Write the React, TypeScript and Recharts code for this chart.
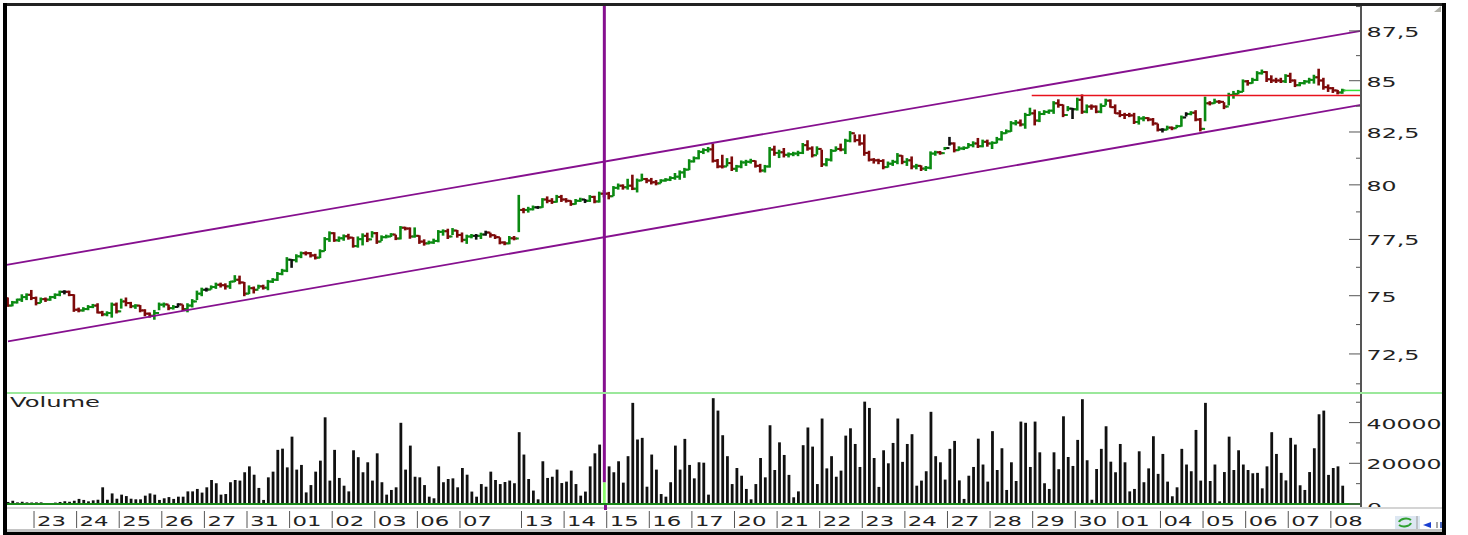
import React from "react";
import { ComposedChart, Bar, Cell, XAxis, YAxis, ReferenceLine } from "recharts";

const highs = [
  74.9,74.75,74.85,75.04,75.08,75.23,74.94,74.9,74.9,74.97,
  75.08,75.2,75.22,75.2,75.04,74.46,74.48,74.57,74.62,74.65,
  74.32,74.3,74.68,74.68,74.85,74.9,74.71,74.61,74.57,74.39,
  74.25,74.36,74.68,74.68,74.59,74.57,74.65,74.59,74.65,74.83,
  75.2,75.33,75.33,75.43,75.55,75.55,75.52,75.62,75.88,75.86,
  75.58,75.43,75.38,75.46,75.46,75.67,75.75,76.02,76.16,76.68,
  76.59,76.81,76.93,76.94,76.91,76.83,77.03,77.58,77.84,77.8,
  77.61,77.7,77.73,77.58,77.61,77.75,77.78,77.85,77.81,77.66,
  77.69,77.76,77.69,78.08,78.05,78.02,78.02,77.66,77.48,77.42,
  77.51,77.9,77.93,77.96,77.99,77.9,77.79,77.69,77.72,77.72,
  77.78,77.87,77.78,77.69,77.57,77.39,77.63,77.63,79.51,78.91,
  78.96,79.02,79,79.36,79.44,79.36,79.51,79.51,79.36,79.26,
  79.32,79.38,79.32,79.5,79.47,79.66,79.74,79.65,79.92,80.04,
  80,80.26,80.45,80.27,80.5,80.3,80.3,80.2,80.24,80.29,
  80.38,80.53,80.65,80.77,81.18,81.31,81.61,81.7,81.76,81.93,
  81.19,81.39,81.23,81.31,80.91,81.12,81.15,81.2,81.12,80.96,
  80.91,81.76,81.82,81.63,81.71,81.5,81.53,81.58,81.95,82.08,
  81.79,81.79,81.63,81.23,81.66,81.79,81.92,82.15,82.52,82.36,
  82.36,82.36,81.58,81.23,81.2,81.18,81.07,81.15,81.47,81.37,
  81.23,81.31,80.96,80.89,80.86,81.55,81.58,81.57,81.76,82.24,
  81.98,81.79,81.79,81.95,82.03,82.19,82.11,82.11,82.03,82.24,
  82.52,82.6,83,83.05,83.08,83.4,83.65,83.56,83.48,83.53,
  83.56,83.97,84.06,83.81,83.73,83.64,84.14,84.3,83.81,83.81,
  83.76,83.86,84.09,84.06,83.81,83.53,83.4,83.4,83.4,83.24,
  83.24,83.19,83.15,82.88,82.66,82.78,82.74,82.82,83.27,83.43,
  83.48,83.53,83.15,84.19,83.97,84.09,84.02,83.92,84.38,84.47,
  84.52,85.04,85.01,85.12,85.45,85.53,85.45,85.24,85.12,85.12,
  85.3,85.37,85.04,84.91,85.01,85.12,85.27,85.57,85.12,84.79,
  84.66,84.52,84.58,
];

const lows = [
  74.54,74.56,74.68,74.75,74.83,74.83,74.6,74.71,74.75,74.8,
  74.88,75,75.08,75,74.32,74.3,74.33,74.39,74.48,74.25,
  74.13,74.13,74.07,74.25,74.46,74.56,74.48,74.45,74.3,74.13,
  74.07,73.98,74.39,74.51,74.39,74.42,74.51,74.36,74.3,74.51,
  74.83,75,75.2,75.29,75.32,75.38,75.29,75.32,75.62,75.52,
  75,75.09,75.12,75.32,75.29,75.26,75.58,75.67,75.92,76.06,
  76.25,76.49,76.68,76.8,76.71,76.62,76.68,77,77.41,77.41,
  77.41,77.46,77.51,77.15,77.15,77.25,77.4,77.6,77.32,77.45,
  77.57,77.63,77.49,77.52,77.93,77.55,77.6,77.32,77.24,77.3,
  77.32,77.39,77.69,77.54,77.72,77.6,77.39,77.32,77.57,77.51,
  77.54,77.69,77.6,77.54,77.3,77.26,77.3,77.48,77.85,78.71,
  78.74,78.84,78.91,78.96,79.17,79.14,79.2,79.23,79.2,79.05,
  79.11,79.23,79.18,79.23,79.17,79.2,79.44,79.35,79.5,79.8,
  79.8,79.8,79.78,79.67,80.2,80.1,80.04,80,80.1,80.17,
  80.2,80.26,80.26,80.35,80.71,81.07,81.22,81.47,81.55,81.07,
  80.8,80.79,80.89,80.67,80.63,80.8,80.91,81.02,80.83,80.6,
  80.6,80.83,81.39,81.28,81.31,81.31,81.37,81.37,81.47,81.63,
  81.31,81.44,80.86,80.89,81.12,81.6,81.6,81.47,82.03,82.03,
  81.87,81.39,81.12,81.02,80.99,80.75,80.83,80.91,80.99,80.99,
  80.91,80.75,80.75,80.67,80.67,80.75,81.39,81.44,81.66,81.87,
  81.55,81.63,81.66,81.76,81.79,81.76,81.79,81.82,81.71,81.98,
  82.11,82.44,82.53,82.84,82.79,82.68,83.32,82.84,83,83.34,
  83.4,83.4,83.7,83.24,83.53,83.15,83.56,83.4,83.43,83.6,
  83.43,83.43,83.81,83.7,83.4,83.24,83.15,83.24,82.91,82.88,
  83.04,83.04,82.83,82.55,82.5,82.61,82.61,82.71,82.78,83.27,
  83.33,83.04,82.55,83.04,83.81,83.89,83.89,83.63,83.81,84.14,
  84.35,84.47,84.78,84.88,85.01,85.33,84.96,84.91,84.91,84.91,
  84.91,84.91,84.71,84.75,84.84,84.88,84.88,84.79,84.58,84.47,
  84.42,84.35,84.38,
];

const closes = [
  74.57,74.71,74.83,74.94,75.04,74.9,74.68,74.85,74.83,74.94,
  75.04,75.17,75.17,75.03,74.39,74.36,74.42,74.51,74.57,74.27,
  74.19,74.25,74.61,74.32,74.75,74.68,74.54,74.57,74.36,74.22,
  74.13,74.25,74.61,74.62,74.46,74.51,74.62,74.42,74.57,74.75,
  75.09,75.26,75.27,75.38,75.48,75.46,75.41,75.62,75.7,75.58,
  75.09,75.33,75.26,75.41,75.35,75.62,75.7,75.96,76.1,76.59,
  76.57,76.74,76.88,76.88,76.78,76.68,76.97,77.51,77.78,77.46,
  77.55,77.64,77.58,77.2,77.51,77.66,77.5,77.78,77.4,77.6,
  77.63,77.72,77.54,78.03,77.99,77.63,77.66,77.4,77.32,77.36,
  77.43,77.84,77.87,77.63,77.9,77.7,77.48,77.63,77.66,77.66,
  77.72,77.81,77.69,77.6,77.36,77.32,77.55,77.54,78.84,78.84,
  78.87,78.96,78.96,79.32,79.26,79.21,79.44,79.32,79.26,79.11,
  79.26,79.32,79.26,79.44,79.23,79.59,79.59,79.47,79.86,79.96,
  79.89,79.96,79.82,80.2,80.27,80.2,80.12,80.07,80.2,80.24,
  80.32,80.38,80.58,80.71,81.1,81.25,81.55,81.64,81.67,81.13,
  80.86,80.86,81.02,80.75,80.86,81.05,81.08,81.12,80.89,80.67,
  80.86,81.66,81.5,81.53,81.41,81.44,81.47,81.5,81.87,81.71,
  81.39,81.69,80.96,81.18,81.6,81.69,81.66,82.08,82.44,82.11,
  81.95,81.5,81.18,81.15,81.12,80.83,80.99,81.08,81.37,81.08,
  81.15,80.86,80.89,80.76,80.8,81.47,81.53,81.49,81.73,81.95,
  81.63,81.71,81.74,81.87,81.95,81.82,82.03,81.95,81.98,82.15,
  82.44,82.53,82.92,82.95,82.86,83.32,83.4,83.05,83.37,83.47,
  83.53,83.89,83.81,83.32,83.63,83.6,84.06,83.48,83.73,83.73,
  83.48,83.76,84.02,83.7,83.4,83.32,83.32,83.3,82.98,83.15,
  83.17,83.1,82.91,82.61,82.61,82.71,82.68,82.78,83.2,83.37,
  83.43,83.1,82.65,83.89,83.89,83.97,83.96,83.73,84.3,84.35,
  84.45,84.97,84.88,85.04,85.37,85.43,85.07,85.01,85.01,84.97,
  85.24,85.01,84.78,84.88,84.96,85.04,85.17,85.01,84.68,84.63,
  84.52,84.42,84.52,
];

const neutralBars = [12, 36, 42, 60, 99, 101, 112, 122, 199, 225, 244, 249];

const volumes = [
  1000,1600,800,1100,800,700,800,800,300,500,
  700,1000,1300,1100,1600,2500,2000,1300,1800,2100,
  8200,2100,5200,2600,4600,3900,2600,2300,2300,4100,
  5200,4600,2000,2800,3400,2500,3600,3600,6200,6200,
  7400,5600,8200,11800,10200,4600,4900,10700,11800,11500,
  15600,18500,14400,7900,2000,13100,15900,26600,27200,18000,
  33100,16900,19200,5700,9300,15900,21300,42600,11500,26600,
  12800,9000,6200,26400,23000,15600,20500,
  11500,24900,10700,4600,6900,8200,39900,16900,28700,13400,
  13100,9300,3600,2800,18500,10700,12300,12600,8200,17700,
  14400,6100,3600,9800,8500,15900,11800,9800,10800,11500,
  10200,35300,24300,12300,6600,2300,21000,12800,13400,16900,
  10300,11000,16400,9800,4100,6100,18500,24900,29200,10700,
  18500,15600,21000,10500,23500,49700,31700,32500,8500,24300,
  16900,4900,3600,10700,28700,16900,32000,19200,12600,20500,
  20300,4600,52000,45900,33800,23500,9800,17700,
  13900,7400,2300,9800,22600,13100,38700,16700,30300,24100,
  14300,3300,6200,28900,37600,28200,9800,42000,17500,23500,
  13400,16400,33600,37200,29500,18200,50300,47200,22600,8400,
  26400,20000,30000,42000,20700,29500,34300,9000,11500,16100,
  45300,23500,20500,12000,27100,31000,11600,2500,13900,18200,
  32100,19400,11000,35800,16700,27400,6900,20500,11300,40500,
  39900,18200,40500,25400,10200,7400,25400,17100,43100,23100,
  18700,31500,51500,21500,2100,17200,27100,38200,
  20800,15600,29500,20500,6200,7400,25900,10700,17500,33300,
  14800,24600,11000,3800,8200,27100,19400,16100,36400,11500,
  49700,11300,19400,1300,15700,33100,16700,26400,19400,16700,
  15100,15300,7700,18500,35300,24600,15300,11600,32500,29200,
  9200,6900,15700,27400,44100,45900,14300,17700,18500,9000,
];

const highlightedVolumeBar = 126;

const dayTickPositions = [
  5.5,14.5,23.5,32.5,41.5,50.5,59.5,68.5,77.5,86.5,95.5,
  108.5,117.5,126.5,135.5,144.5,153.5,162.5,171.5,180.5,189.5,
  198.5,207.5,216.5,225.5,234.5,243.5,252.5,261.5,270.5,279.5,
];
const dayTickLabels = [
  "23","24","25","26","27","31","01","02","03","06","07",
  "13","14","15","16","17","20","21","22","23","24",
  "27","28","29","30","01","04","05","06","07","08",
];

const priceTicks = [71.25,72.5,73.75,75,76.25,77.5,78.75,80,81.25,82.5,83.75,85,86.25,87.5,88.75];
const priceMajor = [72.5,75,77.5,80,82.5,85,87.5];
const volumeTicks = [0,10000,20000,30000,40000,50000];
const volumeMajor = [0,20000,40000];

const upperChannel = [{ x: -0.3, y: 76.36 }, { x: 285.87, y: 87.5 }];
const lowerChannel = [{ x: 0, y: 73.03 }, { x: 285.87, y: 83.81 }];
const resistance = [{ x: 216.3, y: 84.27 }, { x: 285.87, y: 84.27 }];
const lastPrice = [{ x: 282.3, y: 84.52 }, { x: 285.87, y: 84.52 }];
const cursorIndex = 126;
const cursorInVolume = [{ x: 126, y: 54545 }, { x: 126, y: 10700 }];

const X_DOMAIN: [number, number] = [-0.42, 285.87];
const PURPLE = "#86108f";
const FONT = "'DejaVu Sans', sans-serif";

const priceRows = closes.map((close, i) => ({
  idx: i,
  range: [lows[i], highs[i]],
  high: highs[i],
  low: lows[i],
  open: i === 0 ? highs[0] : closes[i - 1],
  close,
}));
const volumeRows = volumes.map((volume, i) => ({ idx: i, volume }));

const OhlcShape = (props: any) => {
  const { x, y, width, height, payload } = props;
  const span = Math.log(payload.high) - Math.log(payload.low) || 1;
  const pos = (v: number) => y + (height * (Math.log(payload.high) - Math.log(v))) / span;
  const cx = x + width / 2;
  let color = payload.close > payload.open ? "#0b8a12" : "#7d0a0a";
  if (neutralBars.includes(payload.idx)) color = "#111111";
  return (
    <g stroke={color} fill="none">
      <line x1={cx} x2={cx} y1={y - 0.5} y2={y + height + 0.5} strokeWidth={2.6} />
      <line x1={cx - 3} x2={cx} y1={pos(payload.open)} y2={pos(payload.open)} strokeWidth={2} />
      <line x1={cx} x2={cx + 3} y1={pos(payload.close)} y2={pos(payload.close)} strokeWidth={2} />
    </g>
  );
};

const tickWidth = (s: string) => {
  let w = 0;
  for (const c of s) w += c === "," ? 8 : 15;
  return w;
};

const makeYTick = (major: number[], clipZero: boolean) => (props: any) => {
  const { x, y, payload } = props;
  const isMajor = major.includes(payload.value);
  const label = String(payload.value).replace(".", ",");
  if (clipZero && payload.value === 0) {
    return (
      <g>
        <line x1={x - 12} x2={x} y1={y} y2={y} stroke="#555" strokeWidth={1} />
        <svg x={x + 5} y={y - 2} width={20} height={5} overflow="hidden">
          <text x={1} y={11} fontSize={14} fontFamily={FONT} fill="#222" textLength={15} lengthAdjust="spacingAndGlyphs">0</text>
        </svg>
      </g>
    );
  }
  return (
    <g>
      <line x1={x - (isMajor ? 12 : 5)} x2={x} y1={y} y2={y} stroke="#555" strokeWidth={1} />
      {isMajor && (
        <text x={x + 5.5} y={y + 6} fontSize={14} fontFamily={FONT} fill="#222" textLength={tickWidth(label)} lengthAdjust="spacingAndGlyphs">
          {label}
        </text>
      )}
    </g>
  );
};

const DayTick = (props: any) => {
  const { x, y, payload } = props;
  const label = dayTickLabels[dayTickPositions.indexOf(payload.value)];
  return (
    <g>
      <line x1={x} x2={x} y1={y + 7} y2={y + 24} stroke="#555" strokeWidth={1} />
      <text x={x + 3} y={y + 22} fontSize={14} fontFamily={FONT} fill="#222" textLength={29} lengthAdjust="spacingAndGlyphs">
        {label}
      </text>
    </g>
  );
};

const box = (left: number, top: number, width: number, height: number, background: string): React.CSSProperties => ({
  position: "absolute", left, top, width, height, background,
});

export default function App() {
  return (
    <div style={{ position: "absolute", left: 0, top: 0, width: 1468, height: 535, background: "#fff", overflow: "hidden" }}>
      <div style={{ position: "absolute", left: 0, top: 0 }}>
        <ComposedChart width={1468} height={393} data={priceRows} margin={{ top: 5, right: 0, bottom: 0, left: 6 }}>
          <XAxis dataKey="idx" type="number" domain={X_DOMAIN} hide allowDataOverflow />
          <YAxis
            orientation="right"
            scale="log"
            domain={[70.87, 88.83]}
            allowDataOverflow
            ticks={priceTicks}
            interval={0}
            width={107}
            tickSize={0}
            tickMargin={0}
            tickLine={false}
            axisLine={{ stroke: "#555", strokeWidth: 2 }}
            tick={makeYTick(priceMajor, false)}
          />
          <ReferenceLine segment={upperChannel} stroke={PURPLE} strokeWidth={1.8} ifOverflow="visible" />
          <ReferenceLine segment={lowerChannel} stroke={PURPLE} strokeWidth={1.8} ifOverflow="visible" />
          <ReferenceLine segment={resistance} stroke="#e8121c" strokeWidth={1.5} ifOverflow="visible" />
          <ReferenceLine segment={lastPrice} stroke="#33e033" strokeWidth={1.5} ifOverflow="visible" />
          <Bar dataKey="range" barSize={4} isAnimationActive={false} shape={OhlcShape} />
          <ReferenceLine x={cursorIndex} stroke={PURPLE} strokeWidth={3} ifOverflow="visible" isFront />
        </ComposedChart>
      </div>
      <div style={{ position: "absolute", left: 0, top: 393 }}>
        <ComposedChart width={1468} height={142} data={volumeRows} margin={{ top: 0, right: 0, bottom: 0, left: 6 }}>
          <XAxis
            dataKey="idx"
            type="number"
            domain={X_DOMAIN}
            allowDataOverflow
            ticks={dayTickPositions}
            interval={0}
            height={31}
            tickSize={0}
            tickMargin={0}
            tickLine={false}
            axisLine={{ stroke: "#1a8a1a", strokeWidth: 2 }}
            tick={DayTick}
          />
          <YAxis
            orientation="right"
            domain={[0, 54545]}
            allowDataOverflow
            ticks={volumeTicks}
            interval={0}
            width={107}
            tickSize={0}
            tickMargin={0}
            tickLine={false}
            axisLine={{ stroke: "#555", strokeWidth: 2 }}
            tick={makeYTick(volumeMajor, true)}
          />
          <ReferenceLine segment={cursorInVolume} stroke={PURPLE} strokeWidth={3} ifOverflow="visible" />
          <Bar dataKey="volume" barSize={2.8} fill="#111" isAnimationActive={false}>
            {volumeRows.map((r) => (
              <Cell key={r.idx} fill={r.idx === highlightedVolumeBar ? "#8cfb6e" : "#111"} />
            ))}
          </Bar>
        </ComposedChart>
      </div>

      {/* pane furniture */}
      <div style={box(6, 392, 1436, 2, "#9be89b")} />
      <div style={box(1360, 504, 2, 3, "#555")} />
      <div style={box(603.5, 505, 3, 5, PURPLE)} />
      <div style={box(6, 507, 598, 2, "#d4d4d4")} />
      <div style={box(607, 507, 835, 2, "#d4d4d4")} />
      <div style={box(6, 529, 1436, 2.5, "#c4c4c4")} />
      {/* window frame */}
      <div style={box(3, 3, 1443, 2.5, "#222")} />
      <div style={box(3, 3, 3.5, 532, "#000")} />
      <div style={box(1442, 3, 3.5, 532, "#000")} />
      <div style={box(3, 531.5, 1442.5, 3.5, "#000")} />

      <svg width={1468} height={535} style={{ position: "absolute", left: 0, top: 0, pointerEvents: "none" }}>
        <text x={10} y={407} fontSize={14} fontFamily={FONT} fill="#222" textLength={90} lengthAdjust="spacingAndGlyphs">Volume</text>
        <polygon points="1441,6 1441,12 1434,12" fill="#b0b0a8" />
        <rect x={1395} y={516} width={25} height={13} fill="#dde7f2" />
        <path d="M1399 522 a7 4.5 0 0 1 12 -2" fill="none" stroke="#2fa02f" strokeWidth={2} />
        <path d="M1411 523 a7 4.5 0 0 1 -12 2" fill="none" stroke="#2fa02f" strokeWidth={2} />
        <line x1={1417} x2={1417} y1={516} y2={529} stroke="#999" strokeWidth={1} />
        <polygon points="1423,525 1431,522 1431,528" fill="#1a3fd0" />
        <line x1={1437} x2={1437} y1={522} y2={528} stroke="#888" strokeWidth={1.5} />
        <line x1={1441} x2={1441} y1={522} y2={528} stroke="#123ab0" strokeWidth={1.5} />
      </svg>
    </div>
  );
}
